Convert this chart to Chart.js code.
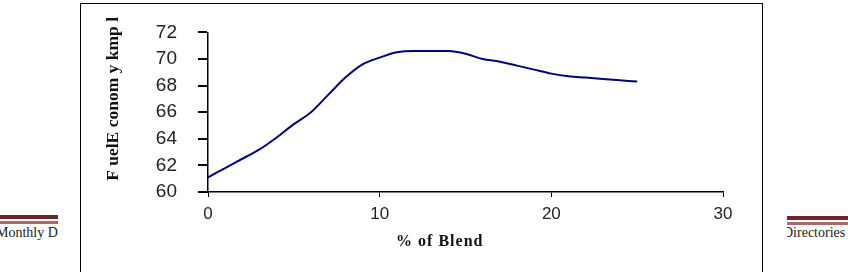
<!DOCTYPE html>
<html>
<head>
<meta charset="utf-8">
<script src="https://cdn.jsdelivr.net/npm/chart.js@4"></script>
<style>
  body { margin: 0; width: 848px; height: 272px; overflow: hidden; background: #fff; position: relative; }
  .band { position: absolute; height: 4px; background: #6b2727; border-bottom: 2px solid #fff; box-shadow: 0 3px 0 #a86a6a; }
  .pagetext { position: absolute; font: 14px 'Liberation Serif', serif; color: #222; white-space: nowrap; overflow: hidden; }
  #box { position: absolute; left: 80px; top: 3px; width: 681px; height: 300px; border: 1.5px solid #000; background: #fff; }
  #wrap { position: absolute; left: 0; top: 0; width: 848px; height: 272px; }
</style>
</head>
<body>
<div class="band" style="left:0;top:215px;width:58px;"></div>
<div class="band" style="left:787px;top:216px;width:61px;"></div>
<div class="pagetext" style="left:0;top:225px;width:58px;"><span style="margin-left:-4px">Monthly Directories</span></div>
<div class="pagetext" style="left:787px;top:225px;width:61px;"><span style="margin-left:-4px">Directories</span></div>
<div id="box"></div>
<div id="wrap"><canvas id="fuelChart" width="848" height="272"></canvas></div>
<script>
const blendPct = [0, 1, 2, 3, 4, 5, 6, 7, 8, 9, 10, 11, 12, 13, 14, 15, 16, 17, 18, 19, 20, 21, 22, 23, 24, 25];
const fuelEconomy = [61.1, 61.8, 62.5, 63.2, 64.1, 65.1, 66.0, 67.3, 68.6, 69.6, 70.1, 70.5, 70.6, 70.6, 70.6, 70.4, 70.0, 69.8, 69.5, 69.2, 68.9, 68.7, 68.6, 68.5, 68.4, 68.3];
const yTicks = [60, 62, 64, 66, 68, 70, 72];
const xTicks = [0, 10, 20, 30];

// titles placed like the original (both a bit off-centre)
const titlePlugin = {
    id: 'axisTitles',
    afterDraw(chart) {
        const ctx = chart.ctx;
        ctx.save();
        ctx.fillStyle = '#111';
        ctx.textAlign = 'center';
        ctx.textBaseline = 'middle';
        ctx.font = 'bold 16px "Liberation Serif", serif';
        if ('letterSpacing' in ctx) ctx.letterSpacing = '1px';
        ctx.fillText('% of Blend', chart.scales.x.getPixelForValue(13.5), 242);
        ctx.font = 'bold 17.5px "Liberation Serif", serif';
        ctx.letterSpacing = '0px';
        ctx.translate(113, chart.scales.y.getPixelForValue(67));
        ctx.rotate(-Math.PI / 2);
        ctx.fillText('F uelE conom y kmp l', 0, 0);
        ctx.restore();
    }
};

new Chart(document.getElementById('fuelChart'), {
    type: 'line',
    data: {
        datasets: [{
            data: blendPct.map((v, i) => ({ x: v, y: fuelEconomy[i] })),
            borderColor: '#000080',
            borderWidth: 2,
            pointRadius: 0,
            cubicInterpolationMode: 'monotone',
            fill: false
        }]
    },
    options: {
        responsive: false,
        animation: false,
        layout: { padding: { left: 80, right: 125, top: 30, bottom: 0 } },
        plugins: { legend: { display: false }, tooltip: { enabled: false } },
        scales: {
            x: {
                type: 'linear',
                min: 0,
                max: 30,
                afterFit: s => { s.height = 80; },
                afterBuildTicks: s => { s.ticks = xTicks.map(v => ({ value: v })); },
                grid: { drawOnChartArea: false, drawTicks: true, tickLength: 5, color: '#000', lineWidth: 1 },
                border: { display: true, color: '#000', width: 1.5 },
                ticks: { color: '#222', padding: 7, font: { family: '"Liberation Sans", Arial', size: 17 }, maxRotation: 0 }
            },
            y: {
                min: 60,
                max: 72,
                afterFit: s => { s.width = 128; },
                afterBuildTicks: s => { s.ticks = yTicks.map(v => ({ value: v })); },
                grid: { drawOnChartArea: false, drawTicks: true, tickLength: 10, color: '#000', lineWidth: 2 },
                border: { display: true, color: '#000', width: 1.5 },
                ticks: { color: '#222', padding: 21, font: { family: '"Liberation Sans", Arial', size: 19 } }
            }
        }
    },
    plugins: [titlePlugin]
});
</script>
</body>
</html>
